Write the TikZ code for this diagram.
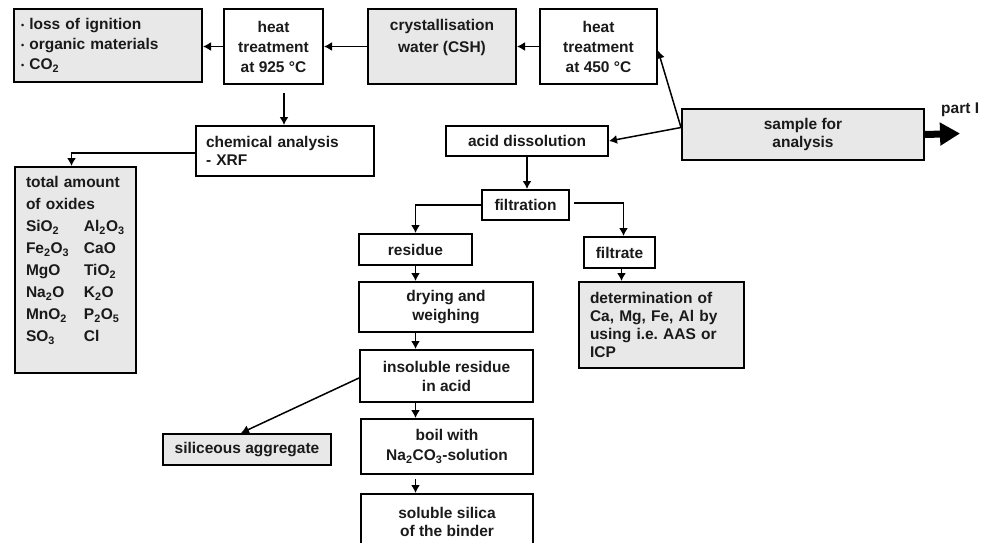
\documentclass[tikz,border=0pt]{standalone}
\usepackage{fontspec}
\setmainfont{Liberation Sans}
\usetikzlibrary{arrows.meta,calc}
\definecolor{boxgray}{HTML}{E8E8E8}
\definecolor{txt}{HTML}{1A1A1A}
\newcommand{\bul}{{\fontsize{9}{9}\selectfont\raisebox{1pt}{•}}\ }
\newcommand{\ox}[2]{\makebox[58pt][l]{#1}#2}
\tikzset{
  box/.style={draw=black, line width=2pt, rectangle, inner sep=0pt, anchor=north west,
    font=\bfseries\fontsize{15.5}{19}\selectfont, text=txt, align=center},
  gbox/.style={box, fill=boxgray},
  arr/.style={draw=black, line width=1.5pt, -{Latex[length=8pt,width=9pt]}},
  bigarr/.style={draw=black, line width=7pt, -{Triangle[length=20pt,width=22pt]}},
}
\begin{document}
\begin{tikzpicture}[x=1pt,y=-1pt]
\useasboundingbox (0,0) rectangle (983,542);
% top row
\node[gbox, minimum width=188pt, minimum height=73pt, text width=174pt, align=left,
  font=\bfseries\fontsize{15.5}{20}\selectfont] (A) at (13,8)
  {\bul loss of ignition\\\bul organic materials\\\bul CO\textsubscript{2}};
\node[box, minimum width=99pt, minimum height=75pt, font=\bfseries\fontsize{15.5}{20}\selectfont] (B) at (223,8)
  {heat\\treatment\\at 925 °C};
\node[gbox, minimum width=148pt, minimum height=75pt, font=\bfseries\fontsize{15.5}{22}\selectfont] (C) at (367,8)
  {crystallisation\\water (CSH)\\\mbox{}};
\node[box, minimum width=117pt, minimum height=75pt, font=\bfseries\fontsize{15.5}{20}\selectfont] (D) at (539,8)
  {heat\\treatment\\at 450 °C};
\node[gbox, minimum width=242pt, minimum height=51pt, font=\bfseries\fontsize{15.5}{18}\selectfont] (E) at (681,108)
  {sample for\\analysis};
\node[anchor=base west, inner sep=0pt, font=\bfseries\fontsize{15.5}{18}\selectfont, text=txt] (P1) at (941,113) {part I};
\coordinate (Eend) at (960,133.5);
% chemical analysis
\node[box, minimum width=178pt, minimum height=50pt, text width=158pt, align=left,
  font=\bfseries\fontsize{15.5}{18}\selectfont] (F) at (195,125)
  {chemical analysis\\- XRF};
\node[gbox, minimum width=121pt, minimum height=206pt, text width=99pt, align=left,
  font=\bfseries\fontsize{15.5}{22}\selectfont] (G) at (14,166)
  {total amount\\of oxides\\
   \ox{SiO\textsubscript{2}}{Al\textsubscript{2}O\textsubscript{3}}\\
   \ox{Fe\textsubscript{2}O\textsubscript{3}}{CaO}\\
   \ox{MgO}{TiO\textsubscript{2}}\\
   \ox{Na\textsubscript{2}O}{K\textsubscript{2}O}\\
   \ox{MnO\textsubscript{2}}{P\textsubscript{2}O\textsubscript{5}}\\
   \ox{SO\textsubscript{3}}{Cl}\\\mbox{}};
% acid branch
\node[box, minimum width=162pt, minimum height=30pt] (H) at (445,125) {acid dissolution};
\node[box, minimum width=87pt, minimum height=30pt] (I) at (481,189) {filtration};
\node[box, minimum width=113pt, minimum height=31pt] (J) at (358,233) {residue};
\node[box, minimum width=71pt, minimum height=31pt] (K) at (583,236) {filtrate};
\node[gbox, minimum width=165pt, minimum height=86pt, text width=143pt, align=left,
  font=\bfseries\fontsize{15.5}{18}\selectfont] (L) at (578,281)
  {determination of\\Ca, Mg, Fe, Al by\\using i.e.\ AAS or\\ICP};
\node[box, minimum width=174pt, minimum height=50pt] (M) at (358,281) {drying and\\weighing};
\node[box, minimum width=173pt, minimum height=52pt] (N) at (359,349) {insoluble residue\\in acid};
\node[gbox, minimum width=168pt, minimum height=31pt] (O) at (162,433) {siliceous aggregate};
\node[box, minimum width=172pt, minimum height=55pt, font=\bfseries\fontsize{15.5}{20}\selectfont] (P) at (360,418)
  {boil with\\Na\textsubscript{2}CO\textsubscript{3}-solution};
\begin{scope}
\clip (0,0) rectangle (983,542);
\node[box, minimum width=172pt, minimum height=55pt, font=\bfseries\fontsize{15.5}{18}\selectfont] (Q) at (360,493)
  {soluble silica\\of the binder};
\end{scope}
% connectors
\draw[arr] (B.west) -- (B.west -| A.east);
\draw[arr] (C.west) -- (C.west -| B.east);
\draw[arr] (D.west) -- (D.west -| C.east);
\coordinate (Es) at ([yshift=7pt]E.west);
\draw[arr] (Es) -- ([yshift=-4pt]D.east);
\draw[arr] (Es) -- (H.east);
\draw[bigarr] (E.east) -- (Eend);
\draw[arr] ([xshift=10.5pt,yshift=-8pt]B.south) -- ([xshift=10.5pt]B.south |- F.north);
\draw[arr] ([yshift=-2pt]F.west) -| ([xshift=-4pt]G.north);
\draw[arr] (H.south) -- (H.south |- I.north);
\draw[arr] (I.west) -| (J.north);
\draw[arr] ([xshift=4pt,yshift=2pt]I.east) -| ([xshift=4pt]K.north);
\draw[arr] ([xshift=2pt]K.south) -- ([xshift=2pt]K.south |- L.north);
\draw[arr] (J.south) -- (J.south |- M.north);
\draw[arr] (M.south -| J.south) -- (N.north -| J.south);
\draw[arr] (N.south -| J.south) -- (P.north -| J.south);
\draw[arr] ([yshift=-4pt]P.south -| J.south) -- (Q.north -| J.south);
\draw[arr] ([yshift=-2pt]N.west) -- ([xshift=-6pt]O.north);
\end{tikzpicture}
\end{document}
